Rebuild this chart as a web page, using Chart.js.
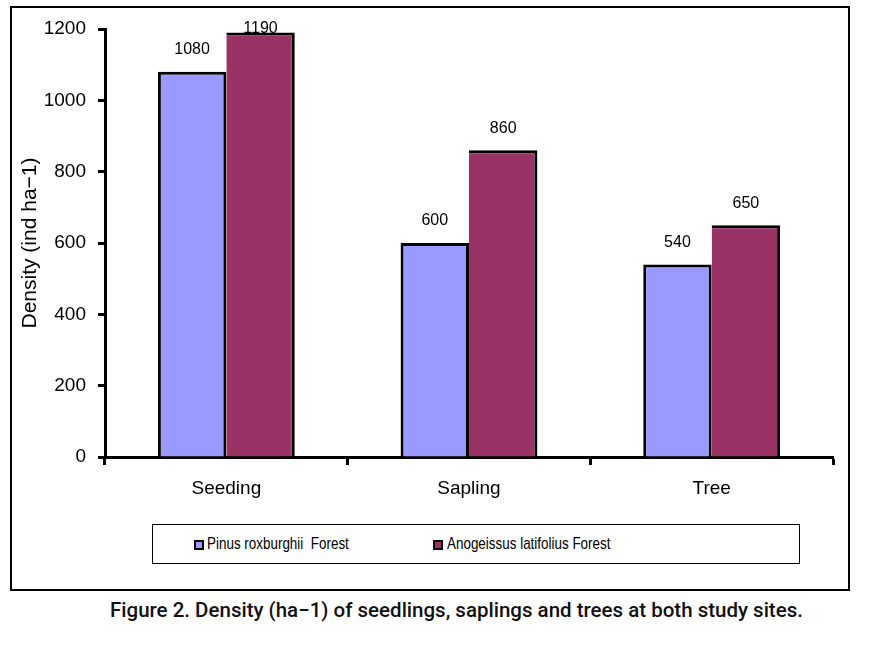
<!DOCTYPE html>
<html>
<head>
<meta charset="utf-8">
<script src="https://cdn.jsdelivr.net/npm/chart.js@4"></script>
<style>
  body { margin: 0; background: #fff; width: 875px; height: 645px; position: relative; overflow: hidden; font-family: "Liberation Sans", Arial, sans-serif; }
  #frame { position: absolute; left: 10px; top: 6px; width: 840px; height: 585px; border: 2px solid #000; box-sizing: border-box; }
  #wrap { position: absolute; left: 0; top: 0; width: 875px; height: 520px; }
  #legend { position: absolute; left: 152px; top: 524px; width: 648px; height: 40px; border: 1px solid #000; box-sizing: border-box; }
  .item { position: absolute; top: 9px; font-size: 17px; color: #000; white-space: nowrap; }
  .item .box { position: absolute; top: 6px; width: 6px; height: 6px; border: 2px solid #000; }
  .item .txt { position: absolute; display: inline-block; transform: scaleX(0.79); transform-origin: left center; }
  #caption { position: absolute; left: 110px; top: 598px; font-family: Roboto, sans-serif; font-weight: 500; font-size: 20.5px; color: #111; white-space: nowrap; }
</style>
</head>
<body>
<div id="frame"></div>
<div id="wrap"><canvas id="densityChart"></canvas></div>
<div id="legend">
  <div class="item" style="left:41px"><span class="box" style="background:#9999FF"></span><span class="txt" style="left:13px">Pinus roxburghii&nbsp; Forest</span></div>
  <div class="item" style="left:280px"><span class="box" style="background:#993366"></span><span class="txt" style="left:14px">Anogeissus latifolius Forest</span></div>
</div>
<div id="caption">Figure 2. Density (ha−1) of seedlings, saplings and trees at both study sites.</div>
<script>
  const categories = ['Seeding', 'Sapling', 'Tree'];
  const pinusValues = [1080, 600, 540];
  const anogeissusValues = [1190, 860, 650];
  const yTicks = [0, 200, 400, 600, 800, 1000, 1200];

  // value labels above bars, drawn before bars so a bar can hide part of one
  const valueLabels = {
    id: 'valueLabels',
    beforeDatasetsDraw(chart) {
      const ctx = chart.ctx;
      ctx.save();
      ctx.font = '16px "Liberation Sans", Arial, sans-serif';
      ctx.fillStyle = '#000';
      ctx.textAlign = 'center';
      ctx.textBaseline = 'middle';
      chart.data.datasets.forEach((ds, i) => {
        chart.getDatasetMeta(i).data.forEach((bar, j) => {
          const y = Math.max(bar.y - 22, chart.chartArea.top);
          ctx.fillText(ds.data[j], bar.x, y);
        });
      });
      ctx.restore();
    }
  };

  const ctx = document.getElementById('densityChart').getContext('2d');
  new Chart(ctx, {
    type: 'bar',
    data: {
      labels: categories,
      datasets: [
        { label: 'Pinus roxburghii  Forest', data: pinusValues, backgroundColor: '#9999FF', borderColor: '#000',
          borderWidth: { left: 3, top: 3, right: 3, bottom: 0 }, borderSkipped: false },
        { label: 'Anogeissus latifolius Forest', data: anogeissusValues, backgroundColor: '#993366', borderColor: '#000',
          borderWidth: { left: 0, top: 3, right: 3, bottom: 0 }, borderSkipped: false }
      ]
    },
    options: {
      responsive: true,
      maintainAspectRatio: false,
      animation: false,
      layout: { padding: { left: 14, right: 42, top: 29, bottom: 0 } },
      datasets: { bar: { categoryPercentage: 0.564, barPercentage: 1 } },
      plugins: { legend: { display: false }, tooltip: { enabled: false } },
      scales: {
        x: {
          grid: { display: true, offset: true, drawOnChartArea: false, drawTicks: true, tickLength: 8, tickColor: '#000', tickWidth: 3 },
          border: { color: '#000', width: 3 },
          ticks: { color: '#000', padding: 12, font: { family: '"Liberation Sans", Arial, sans-serif', size: 19 } },
          afterFit(scale) { scale.height = 63; }
        },
        y: {
          min: 0,
          max: 1200,
          afterBuildTicks(scale) { scale.ticks = yTicks.map(v => ({ value: v })); },
          grid: { display: true, drawOnChartArea: false, drawTicks: true, tickLength: 7, tickColor: '#000', tickWidth: 3 },
          border: { color: '#000', width: 3 },
          ticks: { color: '#000', padding: 12, callback: v => String(v),
                   font: { family: '"Liberation Sans", Arial, sans-serif', size: 19 } },
          title: { display: true, text: 'Density (ind ha−1)', color: '#000', padding: { top: 4, bottom: 0 },
                   font: { family: '"Liberation Sans", Arial, sans-serif', size: 21 } },
          afterFit(scale) { scale.width = 91; }
        }
      }
    },
    plugins: [valueLabels]
  });
</script>
</body>
</html>
